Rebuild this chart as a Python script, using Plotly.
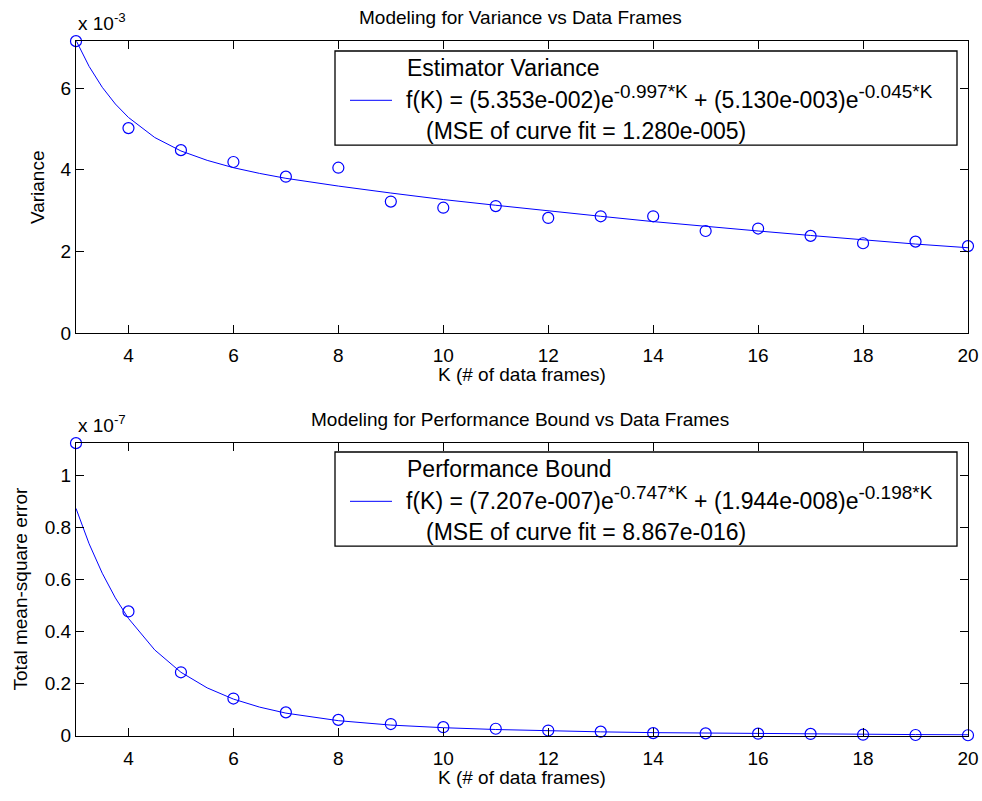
import plotly.graph_objects as go
from plotly.subplots import make_subplots

# ---------------- data ----------------
K_points = [3, 4, 5, 6, 7, 8, 9, 10, 11, 12, 13, 14, 15, 16, 17, 18, 19, 20]
variance_pts = [7.15e-3, 5.02e-3, 4.48e-3, 4.19e-3, 3.83e-3, 4.05e-3, 3.22e-3, 3.07e-3,
                3.11e-3, 2.82e-3, 2.86e-3, 2.86e-3, 2.50e-3, 2.56e-3, 2.38e-3, 2.20e-3,
                2.24e-3, 2.13e-3]
bound_pts = [1.125e-7, 0.478e-7, 0.244e-7, 0.143e-7, 0.090e-7, 0.061e-7, 0.045e-7, 0.033e-7,
             0.027e-7, 0.020e-7, 0.016e-7, 0.010e-7, 0.009e-7, 0.008e-7, 0.007e-7, 0.004e-7,
             0.003e-7, 0.002e-7]

K_curve = [3, 3.25, 3.5, 3.75, 4, 4.5, 5, 5.5, 6, 6.5, 7, 8, 9, 10, 11, 12, 13, 14, 15, 16,
           17, 18, 19, 20]
variance_curve = [7.17e-3, 6.53e-3, 6.02e-3, 5.61e-3, 5.28e-3, 4.79e-3, 4.46e-3, 4.23e-3,
                  4.05e-3, 3.91e-3, 3.79e-3, 3.60e-3, 3.43e-3, 3.27e-3, 3.13e-3, 2.99e-3,
                  2.86e-3, 2.73e-3, 2.61e-3, 2.50e-3, 2.39e-3, 2.28e-3, 2.18e-3, 2.09e-3]
bound_curve = [0.874e-7, 0.738e-7, 0.625e-7, 0.530e-7, 0.451e-7, 0.330e-7, 0.244e-7, 0.184e-7,
               0.141e-7, 0.110e-7, 0.087e-7, 0.058e-7, 0.041e-7, 0.031e-7, 0.024e-7, 0.019e-7,
               0.015e-7, 0.012e-7, 0.010e-7, 0.0082e-7, 0.0067e-7, 0.0055e-7, 0.0045e-7, 0.0037e-7]

x_ticks = [4, 6, 8, 10, 12, 14, 16, 18, 20]
top_yticks = [0, 2e-3, 4e-3, 6e-3]
top_ylabels = ["0", "2", "4", "6"]
bot_yticks = [0, 0.2e-7, 0.4e-7, 0.6e-7, 0.8e-7, 1.0e-7]
bot_ylabels = ["0", "0.2", "0.4", "0.6", "0.8", "1"]

titles = ["Modeling for Variance vs Data Frames", "Modeling for Performance Bound vs Data Frames"]
ylabels = ["Variance", "Total mean-square error"]
xlabel = "K (# of data frames)"
exponents = ["x 10<sup>-3</sup>", "x 10<sup>-7</sup>"]
legend_titles = ["Estimator Variance", "Performance Bound"]
SUP = '<sup><span style="font-size:19px">{}</span></sup>'
legend_eqs = ["f(K) = (5.353e-002)e" + SUP.format("-0.997*K") + " + (5.130e-003)e" + SUP.format("-0.045*K"),
              "f(K) = (7.207e-007)e" + SUP.format("-0.747*K") + " + (1.944e-008)e" + SUP.format("-0.198*K")]
legend_mse = ["(MSE of curve fit = 1.280e-005)", "(MSE of curve fit = 8.867e-016)"]

# ---------------- figure ----------------
W, H = 982, 801
FONT = "Arial, 'Liberation Sans', Helvetica, sans-serif"
BLUE = "#0000ff"
FS = 19
LFS = 23

fig = make_subplots(rows=2, cols=1)

ax_left, ax_right = 76, 968
top_px = (41.7, 337.7)
bot_px = (449.3, 746.0)

def ydom(px):
    return [1 - px[1] / H, 1 - px[0] / H]

for r, (pts, crv) in enumerate([(variance_pts, variance_curve), (bound_pts, bound_curve)], start=1):
    fig.add_trace(go.Scatter(x=K_curve, y=crv, mode="lines",
                             line=dict(color=BLUE, width=1), showlegend=False), row=r, col=1)
    fig.add_trace(go.Scatter(x=K_points, y=pts, mode="markers",
                             marker=dict(symbol="circle-open", size=11, color=BLUE,
                                         line=dict(width=1.2, color=BLUE)),
                             cliponaxis=False, showlegend=False), row=r, col=1)

axis_common = dict(showline=True, linecolor="black", linewidth=1.3, mirror="ticks",
                   ticks="inside", ticklen=8, tickcolor="black", tickwidth=1,
                   showgrid=False, zeroline=False,
                   tickfont=dict(family=FONT, size=FS, color="black"))

fig.update_xaxes(range=[3, 20], tickvals=x_ticks, ticktext=[str(v) for v in x_ticks],
                 domain=[0, 1], ticklabelstandoff=5, **axis_common)
fig.update_yaxes(range=[0, 7.15e-3], tickvals=top_yticks, ticktext=top_ylabels,
                 domain=ydom(top_px), row=1, col=1, **axis_common)
fig.update_yaxes(range=[0, 1.125e-7], tickvals=bot_yticks, ticktext=bot_ylabels,
                 domain=ydom(bot_px), row=2, col=1, **axis_common)

annotations = []
shapes = []
for i, (px, xref, yref) in enumerate([(top_px, "x domain", "y domain"),
                                       (bot_px, "x2 domain", "y2 domain")]):
    y0p, y1p = px
    hpx = y1p - y0p
    def yd(yp):
        return (y1p - yp) / hpx
    def xd(xp):
        return (xp - ax_left) / (ax_right - ax_left)
    annotations.append(dict(text=titles[i], x=xd(520), y=yd(y0p - 23.5), xref=xref, yref=yref,
                            showarrow=False, xanchor="center", yanchor="middle",
                            font=dict(family=FONT, size=FS, color="black")))
    annotations.append(dict(text=exponents[i], x=0, y=yd(y0p - 5), xref=xref, yref=yref,
                            showarrow=False, xanchor="left", yanchor="bottom",
                            font=dict(family=FONT, size=FS, color="black")))
    annotations.append(dict(text=xlabel, x=xd(522), y=yd(y1p + 42), xref=xref, yref=yref,
                            showarrow=False, xanchor="center", yanchor="middle",
                            font=dict(family=FONT, size=FS, color="black")))
    ylx = 37 if i == 0 else 20
    annotations.append(dict(text=ylabels[i], x=xd(ylx), y=0.5, xref=xref, yref=yref,
                            showarrow=False, xanchor="center", yanchor="middle", textangle=-90,
                            font=dict(family=FONT, size=FS, color="black")))
    box_top = y0p + 10 if i == 0 else y0p + 9
    box_bot = box_top + 95.5
    shapes.append(dict(type="rect", xref=xref, yref=yref, x0=xd(335), x1=xd(957),
                       y0=yd(box_bot), y1=yd(box_top),
                       line=dict(color="black", width=1.3), fillcolor="white", layer="above"))
    shapes.append(dict(type="line", xref=xref, yref=yref, x0=xd(350), x1=xd(392),
                       y0=yd(box_top + 50), y1=yd(box_top + 50),
                       line=dict(color=BLUE, width=1), layer="above"))
    annotations.append(dict(text=legend_titles[i], x=xd(405), y=yd(box_top + 17), xref=xref,
                            yref=yref, showarrow=False, xanchor="left", yanchor="middle",
                            font=dict(family=FONT, size=LFS, color="black")))
    annotations.append(dict(text=legend_eqs[i], x=xd(404), y=yd(box_top + 47), xref=xref,
                            yref=yref, showarrow=False, xanchor="left", yanchor="middle",
                            font=dict(family=FONT, size=LFS, color="black")))
    annotations.append(dict(text=legend_mse[i], x=xd(424), y=yd(box_top + 81), xref=xref,
                            yref=yref, showarrow=False, xanchor="left", yanchor="middle",
                            font=dict(family=FONT, size=LFS, color="black")))

fig.update_layout(width=W, height=H, margin=dict(l=ax_left, r=W - ax_right, t=0, b=0),
                  paper_bgcolor="white", plot_bgcolor="white", showlegend=False,
                  annotations=annotations, shapes=shapes,
                  font=dict(family=FONT, size=FS, color="black"))

fig.write_html("out.html")
